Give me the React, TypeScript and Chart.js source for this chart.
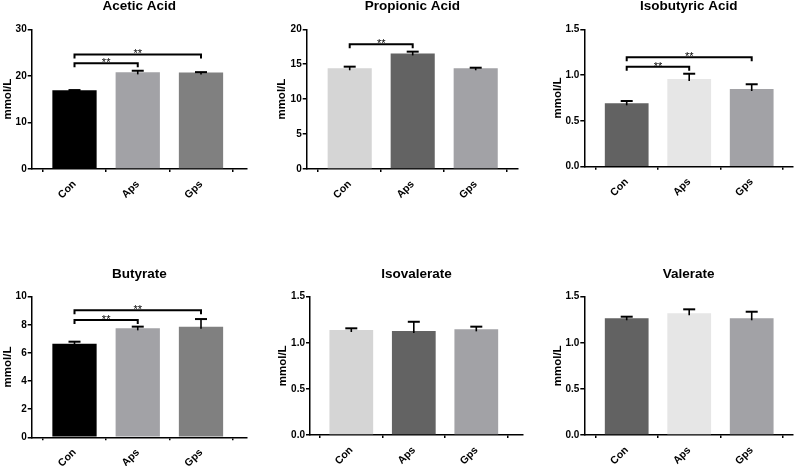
import React, { useEffect, useRef } from "react";
import { Chart, registerables } from "chart.js";

Chart.register(...registerables);

const FONT = "'Liberation Sans', Arial, sans-serif";

// ---------- data ----------
const groups = ["Con", "Aps", "Gps"];
const yUnit = "mmol/L";

const aceticMean = [16.9, 20.75, 20.7];
const aceticSem = [0.05, 0.35, 0.1];

const propionicMean = [14.42, 16.55, 14.42];
const propionicSem = [0.23, 0.25, 0.08];

const isobutyricMean = [0.692, 0.957, 0.848];
const isobutyricSem = [0.025, 0.058, 0.052];

const butyrateMean = [6.66, 7.75, 7.87];
const butyrateSem = [0.14, 0.12, 0.54];

const isovalerateMean = [1.139, 1.128, 1.146];
const isovalerateSem = [0.018, 0.1, 0.029];

const valerateMean = [1.266, 1.32, 1.266];
const valerateSem = [0.017, 0.043, 0.071];

// significance brackets: [groupA, groupB, height in axis units]
const aceticSig = [[0, 1, 22.7], [0, 2, 24.6]];
const propionicSig = [[0, 1, 17.85]];
const isobutyricSig = [[0, 1, 1.092], [0, 2, 1.194]];
const butyrateSig = [[0, 1, 8.34], [0, 2, 9.03]];
const noSig: number[][] = [];

// ---------- styles ----------
const paletteA = ["#000000", "#a2a2a6", "#808080"];
const paletteB = ["#d5d5d5", "#636363", "#a2a2a6"];
const paletteC = ["#626262", "#e6e6e6", "#a2a2a6"];

type Spec = {
  title: string;
  means: number[];
  sems: number[];
  colors: string[];
  yMax: number;
  yStep: number;
  decimals: number;
  sig: number[][];
  box: { left: number; top: number; width: number; height: number };
  area: { l: number; r: number; t: number; b: number };
  yTitleX: number;
  titleY: number;
  c0: number;
  sp: number;
};

const specs: Spec[] = [
  {
    title: "Acetic Acid", means: aceticMean, sems: aceticSem, colors: paletteA,
    yMax: 30, yStep: 10, decimals: 0, sig: aceticSig,
    box: { left: 0, top: 0, width: 265, height: 220 },
    area: { l: 31.7, r: 247, t: 29.3, b: 169 }, yTitleX: 8, titleY: 6.5, c0: 74.5, sp: 63.25,
  },
  {
    title: "Propionic Acid", means: propionicMean, sems: propionicSem, colors: paletteB,
    yMax: 20, yStep: 5, decimals: 0, sig: propionicSig,
    box: { left: 265, top: 0, width: 265, height: 220 },
    area: { l: 306.7, r: 518, t: 29.3, b: 169 }, yTitleX: 281.7, titleY: 6.5, c0: 349.7, sp: 63,
  },
  {
    title: "Isobutyric Acid", means: isobutyricMean, sems: isobutyricSem, colors: paletteC,
    yMax: 1.5, yStep: 0.5, decimals: 1, sig: isobutyricSig,
    box: { left: 530, top: 0, width: 265, height: 220 },
    area: { l: 584.3, r: 793, t: 29.3, b: 166.7 }, yTitleX: 558.3, titleY: 6.5, c0: 626.7, sp: 62.5,
  },
  {
    title: "Butyrate", means: butyrateMean, sems: butyrateSem, colors: paletteA,
    yMax: 10, yStep: 2, decimals: 0, sig: butyrateSig,
    box: { left: 0, top: 260, width: 265, height: 206 },
    area: { l: 31.7, r: 247, t: 296.7, b: 437.3 }, yTitleX: 8.3, titleY: 274.3, c0: 74.5, sp: 63.25,
  },
  {
    title: "Isovalerate", means: isovalerateMean, sems: isovalerateSem, colors: paletteB,
    yMax: 1.5, yStep: 0.5, decimals: 1, sig: noSig,
    box: { left: 265, top: 260, width: 265, height: 206 },
    area: { l: 310, r: 523, t: 296.7, b: 435 }, yTitleX: 282.7, titleY: 274.3, c0: 351.3, sp: 62.5,
  },
  {
    title: "Valerate", means: valerateMean, sems: valerateSem, colors: paletteC,
    yMax: 1.5, yStep: 0.5, decimals: 1, sig: noSig,
    box: { left: 530, top: 260, width: 265, height: 206 },
    area: { l: 584.3, r: 793, t: 296.7, b: 435 }, yTitleX: 557.7, titleY: 274.3, c0: 626.7, sp: 62.5,
  },
];

function Panel({ spec }: { spec: Spec }) {
  const ref = useRef<HTMLCanvasElement | null>(null);

  useEffect(() => {
    const canvas = ref.current;
    if (!canvas) return;
    const { box, area } = spec;
    const titleSize = 13.5;
    const yTitleSize = 11.5;
    const yWidth = area.l - box.left;
    const xHeight = box.top + box.height - area.b;
    const padRight = box.left + box.width - area.r;
    const titleTopPad = Math.max(0, spec.titleY - box.top - titleSize / 2);
    const titleBottomPad = area.t - box.top - titleTopPad - titleSize;
    const xmin = (area.l - spec.c0) / spec.sp;
    const xmax = (area.r - spec.c0) / spec.sp;
    const yTitlePad = Math.max(0, spec.yTitleX - box.left - (yTitleSize * 1.2) / 2);

    const annot = {
      id: "annot",
      afterDatasetsDraw(chart: any) {
        const ctx = chart.ctx as CanvasRenderingContext2D;
        const xs = chart.scales.x;
        const ys = chart.scales.y;
        ctx.save();
        ctx.strokeStyle = "#000";
        ctx.lineCap = "butt";
        spec.means.forEach((m, i) => {
          const px = xs.getPixelForValue(i);
          const top = ys.getPixelForValue(m + spec.sems[i]);
          const base = ys.getPixelForValue(m);
          ctx.lineWidth = 1.6;
          ctx.beginPath();
          ctx.moveTo(px, base + 2);
          ctx.lineTo(px, top);
          ctx.stroke();
          ctx.lineWidth = 2;
          ctx.beginPath();
          ctx.moveTo(px - 6, top);
          ctx.lineTo(px + 6, top);
          ctx.stroke();
        });
        spec.sig.forEach(([a, b, h]) => {
          const xa = xs.getPixelForValue(a);
          const xb = xs.getPixelForValue(b);
          const py = ys.getPixelForValue(h);
          ctx.lineWidth = 2;
          ctx.beginPath();
          ctx.moveTo(xa, py + 4);
          ctx.lineTo(xa, py);
          ctx.lineTo(xb, py);
          ctx.lineTo(xb, py + 4);
          ctx.stroke();
          ctx.fillStyle = "#000";
          ctx.font = `11px ${FONT}`;
          ctx.textAlign = "center";
          ctx.textBaseline = "alphabetic";
          ctx.fillText("**", (xa + xb) / 2, py + 3);
        });
        ctx.restore();
      },
    };

    const tickFont = { family: FONT, size: 10, weight: "bold" as const };
    const xTickFont = { family: FONT, size: 10.5, weight: "bold" as const };

    const chart = new Chart(canvas, {
      type: "bar",
      data: {
        datasets: [
          {
            data: spec.means.map((m, i) => ({ x: i, y: m })),
            backgroundColor: spec.colors,
            borderWidth: 0,
            barPercentage: 0.7,
            categoryPercentage: 1,
          },
        ],
      },
      options: {
        animation: false,
        responsive: false,
        devicePixelRatio: 1,
        layout: { padding: { left: 0, right: padRight, top: 0, bottom: 0 } },
        plugins: {
          legend: { display: false },
          tooltip: { enabled: false },
          title: {
            display: true,
            text: spec.title,
            fullSize: false,
            color: "#000",
            font: { family: FONT, size: titleSize, weight: "bold", lineHeight: 1 },
            padding: { top: titleTopPad, bottom: titleBottomPad },
          },
        },
        scales: {
          x: {
            type: "linear",
            min: xmin,
            max: xmax,
            bounds: "data",
            offset: false,
            afterBuildTicks: (s: any) => {
              s.ticks = groups.map((_, i) => ({ value: i }));
            },
            afterFit: (s: any) => {
              s.height = xHeight;
            },
            ticks: {
              autoSkip: false,
              minRotation: 45,
              maxRotation: 45,
              color: "#000",
              font: xTickFont,
              padding: 6,
              callback: (v: any) => groups[Number(v)] ?? "",
            },
            grid: { drawOnChartArea: false, drawTicks: true, tickLength: 3, color: "#000", lineWidth: 1.5 },
            border: { display: true, color: "#000", width: 1.5 },
          },
          y: {
            type: "linear",
            min: 0,
            max: spec.yMax,
            afterFit: (s: any) => {
              s.width = yWidth;
            },
            ticks: {
              stepSize: spec.yStep,
              color: "#000",
              font: tickFont,
              padding: 1,
              callback: (v: any) => Number(v).toFixed(spec.decimals),
            },
            grid: { drawOnChartArea: false, drawTicks: true, tickLength: 4, color: "#000", lineWidth: 1.5 },
            border: { display: true, color: "#000", width: 1.5 },
            title: {
              display: true,
              text: yUnit,
              color: "#000",
              font: { family: FONT, size: yTitleSize, weight: "bold" },
              padding: { top: yTitlePad, bottom: 0 },
            },
          },
        },
      },
      plugins: [annot],
    } as any);

    return () => chart.destroy();
  }, [spec]);

  return (
    <canvas
      ref={ref}
      width={spec.box.width}
      height={spec.box.height}
      style={{
        position: "absolute",
        left: spec.box.left,
        top: spec.box.top,
        width: spec.box.width,
        height: spec.box.height,
      }}
    />
  );
}

export default function App() {
  return (
    <div
      style={{
        position: "absolute",
        left: 0,
        top: 0,
        width: 795,
        height: 466,
        background: "#ffffff",
        overflow: "hidden",
      }}
    >
      {specs.map((s) => (
        <Panel key={s.title} spec={s} />
      ))}
    </div>
  );
}
